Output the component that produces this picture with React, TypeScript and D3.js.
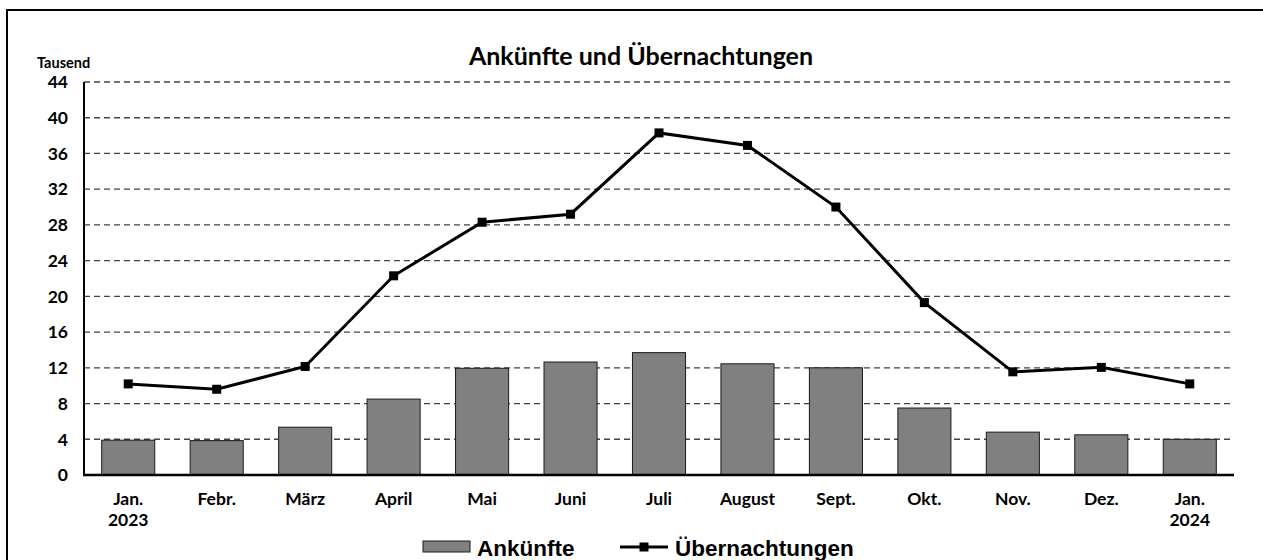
import React from "react";
import * as d3 from "d3";

const categories = ["Jan.|2023", "Febr.", "März", "April", "Mai", "Juni", "Juli", "August", "Sept.", "Okt.", "Nov.", "Dez.", "Jan.|2024"];
const ankuenfte = [3.9, 3.85, 5.35, 8.5, 11.95, 12.65, 13.7, 12.45, 12.0, 7.5, 4.8, 4.5, 4.0];
const uebernachtungen = [10.2, 9.6, 12.15, 22.3, 28.3, 29.2, 38.3, 36.9, 30.0, 19.3, 11.55, 12.05, 10.2];
const yTicks = [0, 4, 8, 12, 16, 20, 24, 28, 32, 36, 40, 44];

const W = 1263;
const H = 560;
const left = 84;
const right = 1234;
const top = 82;
const bottom = 475;
const lato = "Lato, 'Open Sans', sans-serif";

export default function App() {
  const x = d3.scaleBand<string>().domain(categories).range([left, right]).paddingInner(0.4).paddingOuter(0.2);
  const y = d3.scaleLinear().domain([0, 44]).range([bottom, top]);
  const cx = (c: string) => (x(c) as number) + x.bandwidth() / 2;
  const line = d3.line<number>().x((_, i) => cx(categories[i])).y((d) => y(d));
  const ms = 9;

  return (
    <div style={{ position: "fixed", left: 0, top: 0 }}>
      <svg width={W} height={H} style={{ display: "block", background: "#fff" }}>
        <rect x={7} y={10} width={1300} height={600} fill="none" stroke="#000" strokeWidth={2} />
        <text x={641} y={65} textAnchor="middle" fontFamily={lato} fontWeight={700} fontSize={25} fill="#000">
          Ankünfte und Übernachtungen
        </text>
        <text x={37} y={68} fontFamily={lato} fontWeight={700} fontSize={14.5} fill="#000">Tausend</text>
        {yTicks.filter((t) => t > 0).map((t) => (
          <line key={"g" + t} x1={left} x2={right} y1={y(t)} y2={y(t)} stroke="#444" strokeWidth={1.3} strokeDasharray="6 4" />
        ))}
        {yTicks.map((t) => (
          <text key={"t" + t} x={68} y={y(t)} dy="0.36em" textAnchor="end" fontFamily={lato} fontWeight={700} fontSize={17.5} fill="#000">
            {t}
          </text>
        ))}
        {categories.map((c, i) => (
          <rect key={"b" + c} x={x(c)} y={y(ankuenfte[i])} width={x.bandwidth()} height={bottom - y(ankuenfte[i])} fill="#808080" stroke="#1a1a1a" strokeWidth={1} />
        ))}
        <line x1={left} x2={left} y1={top} y2={bottom} stroke="#000" strokeWidth={2} />
        <line x1={left - 1} x2={right} y1={bottom} y2={bottom} stroke="#000" strokeWidth={2.5} />
        <path d={line(uebernachtungen) || ""} fill="none" stroke="#000" strokeWidth={3} />
        {uebernachtungen.map((v, i) => (
          <rect key={"m" + i} x={cx(categories[i]) - ms / 2} y={y(v) - ms / 2} width={ms} height={ms} fill="#000" />
        ))}
        {categories.map((c) => {
          const parts = c.split("|");
          return (
            <text key={"x" + c} textAnchor="middle" fontFamily={lato} fontWeight={700} fontSize={17.5} fill="#000">
              {parts.map((p, j) => (
                <tspan key={j} x={cx(c)} y={505 + j * 21}>{p}</tspan>
              ))}
            </text>
          );
        })}
        <rect x={423} y={541} width={47} height={11} fill="#808080" stroke="#1a1a1a" strokeWidth={1} />
        <text x={477} y={556} fontFamily="'Liberation Sans', Arial, sans-serif" fontWeight={700} fontSize={22.5} fill="#000">Ankünfte</text>
        <line x1={620} x2={668} y1={547} y2={547} stroke="#000" strokeWidth={3} />
        <rect x={644 - ms / 2} y={547 - ms / 2} width={ms} height={ms} fill="#000" />
        <text x={675} y={556} fontFamily="'Liberation Sans', Arial, sans-serif" fontWeight={700} fontSize={22.5} fill="#000">Übernachtungen</text>
      </svg>
    </div>
  );
}
